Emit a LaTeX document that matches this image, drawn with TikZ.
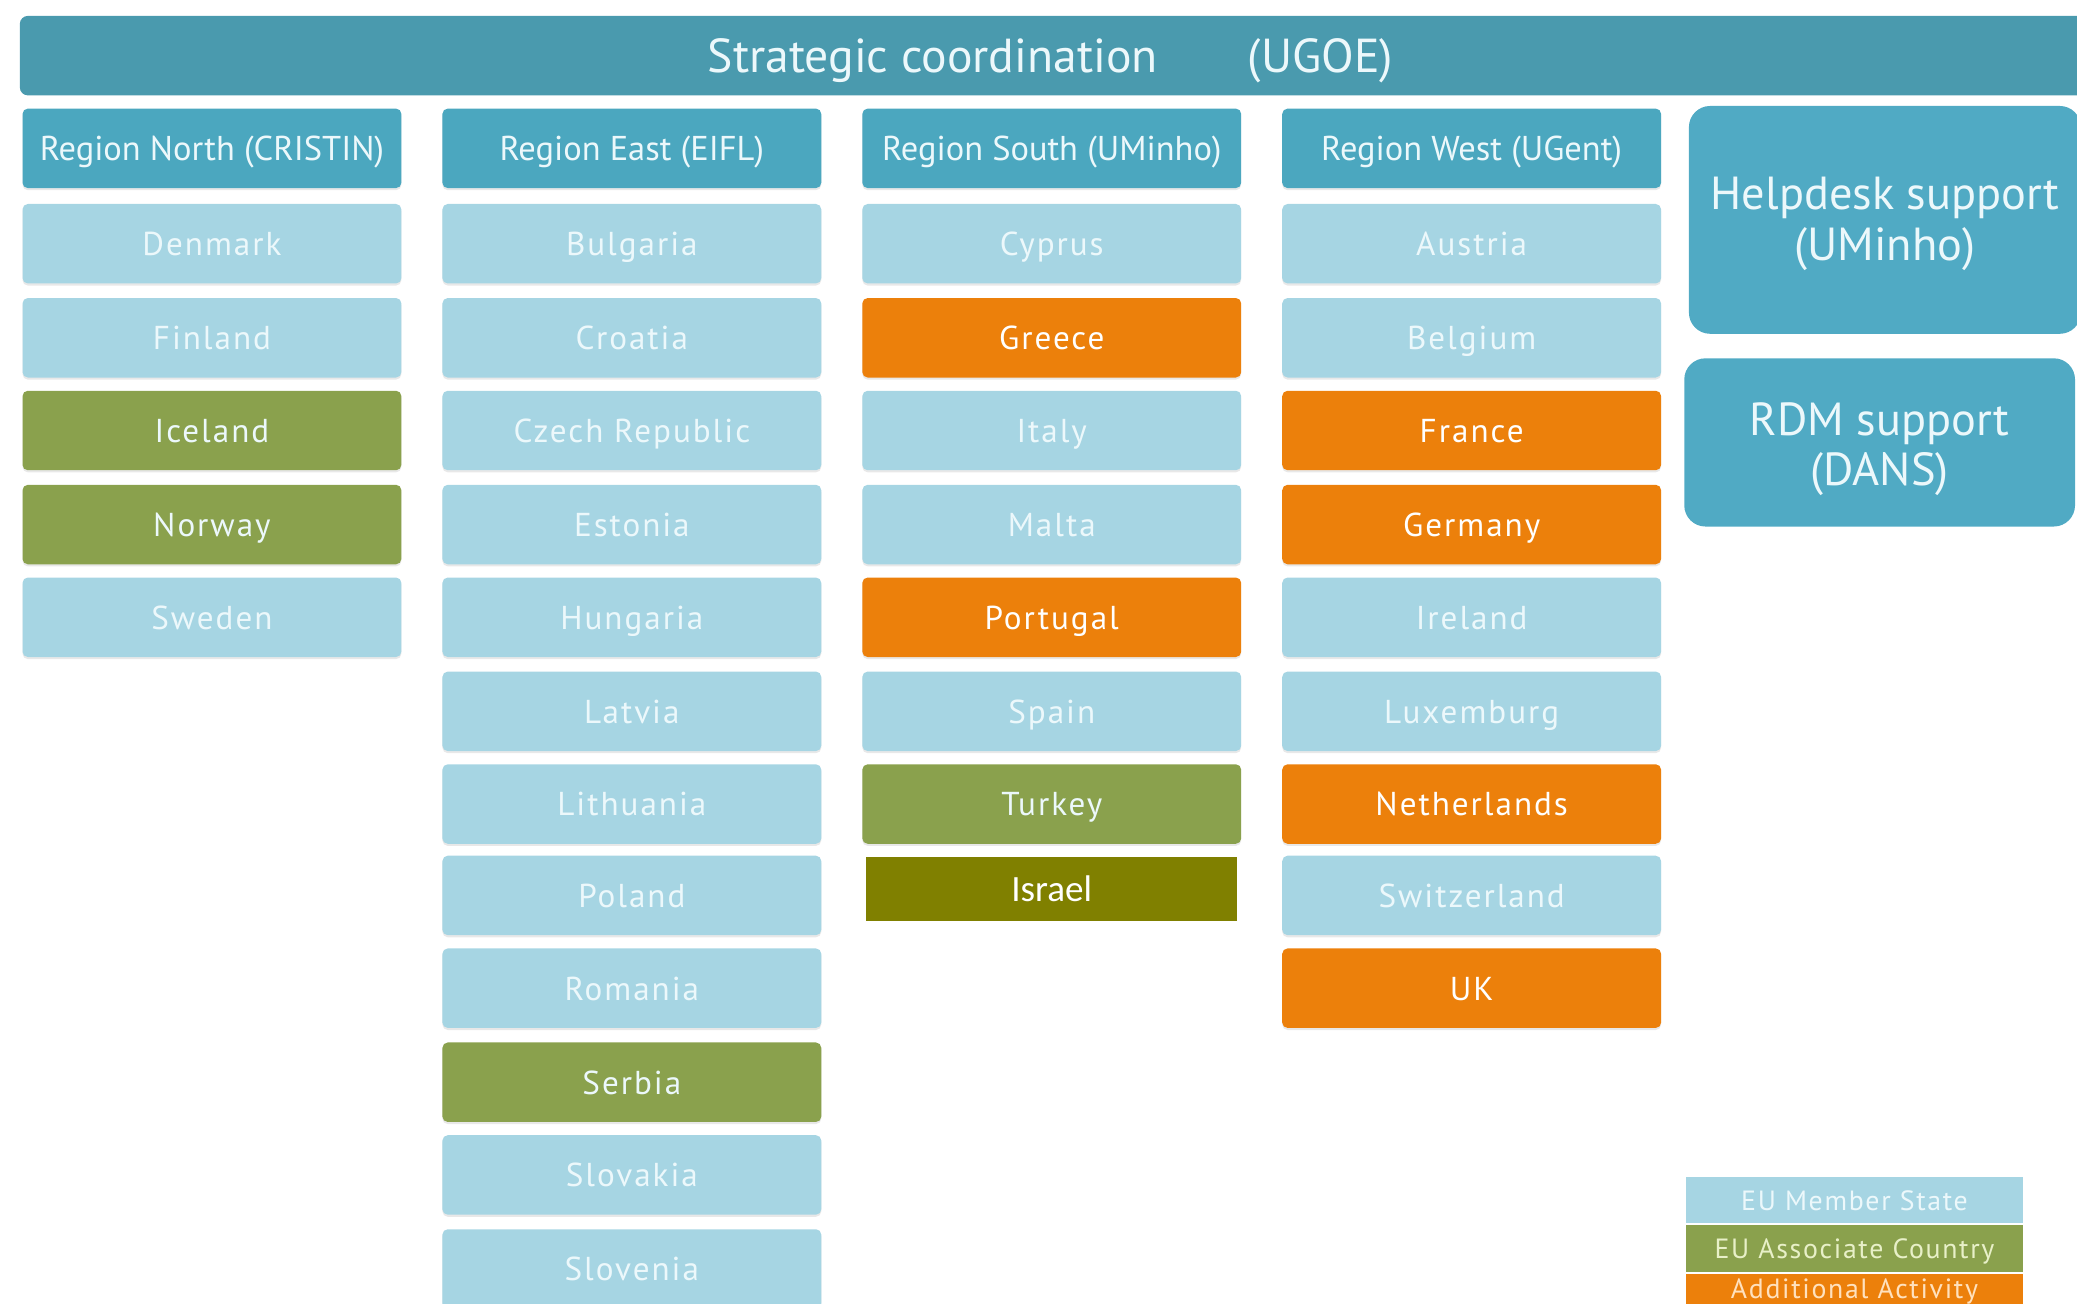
\documentclass[tikz,border=0pt]{standalone}
\usepackage{fontspec}
\setmainfont{PT Sans}
\newfontfamily\widefont[LetterSpace=6]{PT Sans}
\newfontfamily\israelfont{Carlito}
\usetikzlibrary{positioning,shadows}

\definecolor{topteal}{RGB}{74,154,174}
\definecolor{headteal}{RGB}{75,167,191}
\definecolor{sideteal}{RGB}{80,170,196}
\definecolor{memberblue}{RGB}{166,213,227}
\definecolor{assocgreen}{RGB}{138,161,77}
\definecolor{extraorange}{RGB}{236,128,11}
\definecolor{israelolive}{RGB}{128,128,0}
\definecolor{paletext}{RGB}{236,248,251}

\tikzset{
  every picture/.style={line width=0.75pt},
  cbox/.style={rounded corners=2pt, minimum width=143pt, minimum height=30pt,
    inner sep=0pt, text height=11pt, text depth=2pt, text=paletext,
    font=\widefont\fontsize{12.5}{14}\selectfont,
    drop shadow={shadow xshift=0pt, shadow yshift=-0.8pt, opacity=0.18}},
  headbox/.style={cbox, fill=headteal, font=\fontsize{13}{15}\selectfont},
  memberbox/.style={cbox, fill=memberblue},
  assocbox/.style={cbox, fill=assocgreen},
  extrabox/.style={cbox, fill=extraorange, text=white},
  sidebox/.style={rounded corners=8pt, fill=sideteal, text=paletext, inner sep=0pt,
    align=center, font=\fontsize{17.5}{19}\selectfont},
  legendbox/.style={minimum width=127.5pt, minimum height=17.5pt, inner sep=0pt,
    text height=9pt, text depth=1.5pt, font=\widefont\fontsize{10.5}{12}\selectfont}
}

\begin{document}
\begin{tikzpicture}[x=0.5pt,y=0.5pt,yscale=-1,xscale=1]
\useasboundingbox (0,0) rectangle (1568,984);

%Shape: Top bar
\node [rounded corners=3pt, fill=topteal, minimum width=790pt, minimum height=30pt, inner sep=0pt,
  text height=15pt, text depth=2pt, text=paletext, font=\fontsize{18}{20}\selectfont] (strategic) at (805,42)
  {\hspace{-12pt}Strategic coordination\hspace{34pt}(UGOE)};

%Region headers
\node [headbox] (north) at (160,112) {Region North (CRISTIN)};
\node [headbox] (east) at (477,112) {Region East (EIFL)};
\node [headbox] (south) at (794,112) {Region South (UMinho)};
\node [headbox] (west) at (1111,112) {Region West (UGent)};

%Region North
\node [memberbox] (denmark) at (160,184) {Denmark};
\node [memberbox] (finland) at (160,255) {Finland};
\node [assocbox] (iceland) at (160,325) {Iceland};
\node [assocbox] (norway) at (160,396) {Norway};
\node [memberbox] (sweden) at (160,466) {Sweden};

%Region East
\node [memberbox] (bulgaria) at (477,184) {Bulgaria};
\node [memberbox] (croatia) at (477,255) {Croatia};
\node [memberbox] (czech) at (477,325) {Czech Republic};
\node [memberbox] (estonia) at (477,396) {Estonia};
\node [memberbox] (hungaria) at (477,466) {Hungaria};
\node [memberbox] (latvia) at (477,537) {Latvia};
\node [memberbox] (lithuania) at (477,607) {Lithuania};
\node [memberbox] (poland) at (477,676) {Poland};
\node [memberbox] (romania) at (477,746) {Romania};
\node [assocbox] (serbia) at (477,817) {Serbia};
\node [memberbox] (slovakia) at (477,887) {Slovakia};
\node [memberbox] (slovenia) at (477,958) {Slovenia};

%Region South
\node [memberbox] (cyprus) at (794,184) {Cyprus};
\node [extrabox] (greece) at (794,255) {Greece};
\node [memberbox] (italy) at (794,325) {Italy};
\node [memberbox] (malta) at (794,396) {Malta};
\node [extrabox] (portugal) at (794,466) {Portugal};
\node [memberbox] (spain) at (794,537) {Spain};
\node [assocbox] (turkey) at (794,607) {Turkey};
\node [fill=israelolive, minimum width=140pt, minimum height=24pt, inner sep=0pt,
  text height=12pt, text depth=2.5pt, text=white,
  font=\israelfont\fontsize{14}{16}\selectfont] (israel) at (794,671) {Israel};

%Region West
\node [memberbox] (austria) at (1111,184) {Austria};
\node [memberbox] (belgium) at (1111,255) {Belgium};
\node [extrabox] (france) at (1111,325) {France};
\node [extrabox] (germany) at (1111,396) {Germany};
\node [memberbox] (ireland) at (1111,466) {Ireland};
\node [memberbox] (luxemburg) at (1111,537) {Luxemburg};
\node [extrabox] (netherlands) at (1111,607) {Netherlands};
\node [memberbox] (switzerland) at (1111,676) {Switzerland};
\node [extrabox] (uk) at (1111,746) {UK};

%Support boxes
\node [sidebox, minimum width=148pt, minimum height=86pt] (helpdesk) at (1423,166) {};
\node [sidebox, fill=none] at (1423,169) {Helpdesk support\\(UMinho)};
\node [sidebox, minimum width=147.5pt, minimum height=63.5pt] (rdm) at (1419,334) {};
\node [sidebox, fill=none] at (1419,339) {RDM support\\(DANS)};

%Legend
\node [legendbox, fill=memberblue, text=paletext] (legmember) at (1400,906) {EU Member State};
\node [legendbox, fill=assocgreen, text={rgb,255:red,232;green,240;blue,200}, below=0pt of legmember] (legassoc) {EU Associate Country};
\node [legendbox, fill=extraorange, below=0pt of legassoc] (legextra) {};
\node [legendbox, text={rgb,255:red,255;green,225;blue,190}] at ([yshift=-3pt]legextra.center) {Additional Activity};

\end{tikzpicture}
\end{document}
